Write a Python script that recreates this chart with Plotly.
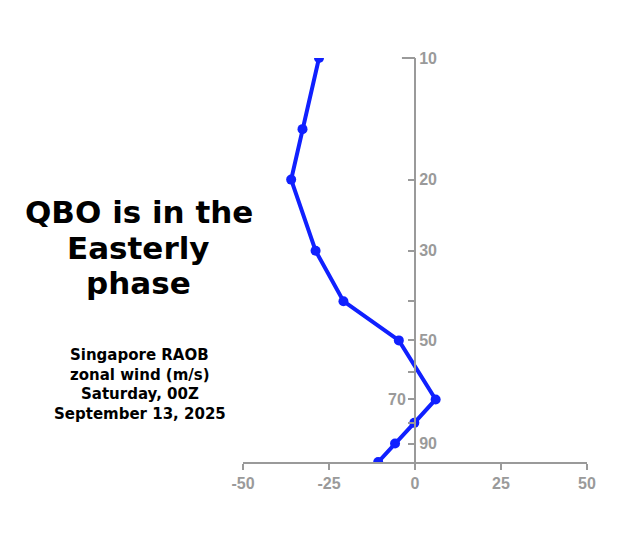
import plotly.graph_objects as go

# Singapore RAOB zonal wind profile
pressure_hpa = [10, 15, 20, 30, 40, 50, 70, 80, 90, 100]
zonal_wind = [-27.9, -32.7, -36.0, -28.9, -20.8, -4.7, 6.0, -0.2, -5.8, -10.7]

y_tickvals = [10, 20, 30, 40, 50, 60, 70, 80, 90]
y_ticktext = ["10", "20", "30", "", "50", "", "", "", "90"]
y_left_tickvals = [70]          # label placed left of the axis (line passes on the right)
y_left_ticktext = ["70"]
x_tickvals = [-50, -25, 0, 25, 50]
x_ticktext = ["-50", "-25", "0", "25", "50"]

title_lines = ["QBO is in the", "Easterly", "phase"]
sub_lines = ["Singapore RAOB", "zonal wind (m/s)", "Saturday, 00Z", "September 13, 2025"]

AX = "#9a9a9a"
TICKFONT = "Liberation Sans, Arial, sans-serif"
TEXTFONT = "DejaVu Sans, sans-serif"

# plot area in pixels (for placing free text in paper coords)
L, R, T, B = 243, 587, 58, 462


def px_to_paper(px, py):
    return (px - L) / (R - L), (B - py) / (B - T)


fig = go.Figure()
fig.add_trace(go.Scatter(
    x=zonal_wind, y=pressure_hpa, mode="lines+markers",
    line=dict(color="#1020ff", width=4),
    marker=dict(color="#1020ff", size=10),
    cliponaxis=True, showlegend=False, hoverinfo="skip",
))
# transparent companion trace so the left-label axis is rendered
fig.add_trace(go.Scatter(
    x=zonal_wind, y=pressure_hpa, yaxis="y2", mode="lines",
    line=dict(color="rgba(0,0,0,0)", width=0),
    showlegend=False, hoverinfo="skip",
))

annotations = []
for i, line in enumerate(title_lines):
    xp, yp = px_to_paper(138.5, 212 + 35.5 * i)
    annotations.append(dict(
        text=line, xref="paper", yref="paper", x=xp, y=yp,
        xanchor="center", yanchor="middle", showarrow=False,
        font=dict(family=TEXTFONT, size=31, color="black", weight="bold")))
for i, line in enumerate(sub_lines):
    xp, yp = px_to_paper(139.5, 355 + 19.5 * i)
    annotations.append(dict(
        text=line, xref="paper", yref="paper", x=xp, y=yp,
        xanchor="center", yanchor="middle", showarrow=False,
        font=dict(family=TEXTFONT, size=15, color="black", weight="bold")))

fig.update_layout(
    width=640, height=536,
    margin=dict(l=L, r=640 - R, t=T, b=536 - B),
    paper_bgcolor="white", plot_bgcolor="white",
    xaxis=dict(
        range=[-50, 50], tickvals=x_tickvals, ticktext=x_ticktext,
        ticks="outside", ticklen=6,
        tickwidth=2, tickcolor=AX, showline=True, linecolor=AX, linewidth=2,
        showgrid=False, zeroline=False,
        tickfont=dict(family=TICKFONT, size=16, color=AX, weight="bold"),
    ),
    yaxis=dict(
        type="log", range=[2, 1], anchor="free", position=0.5, side="right",
        tickvals=y_tickvals, ticktext=y_ticktext, ticks="inside", ticklen=6,
        tickwidth=2, tickcolor=AX, showline=True, linecolor=AX, linewidth=2,
        showgrid=False, zeroline=False,
        tickfont=dict(family=TICKFONT, size=16, color=AX, weight="bold"),
    ),
    yaxis2=dict(
        type="log", range=[2, 1], overlaying="y", anchor="free", position=0.5,
        side="left", tickvals=y_left_tickvals, ticktext=y_left_ticktext,
        ticks="outside", ticklen=6, tickwidth=2, tickcolor=AX,
        showline=False, showgrid=False, zeroline=False,
        tickfont=dict(family=TICKFONT, size=16, color=AX, weight="bold"),
    ),
    shapes=[dict(type="line", xref="x", yref="paper", x0=-3.8, x1=0,
                 y0=1, y1=1, line=dict(color=AX, width=2))],
    annotations=annotations,
)

fig.write_html("out.html")
